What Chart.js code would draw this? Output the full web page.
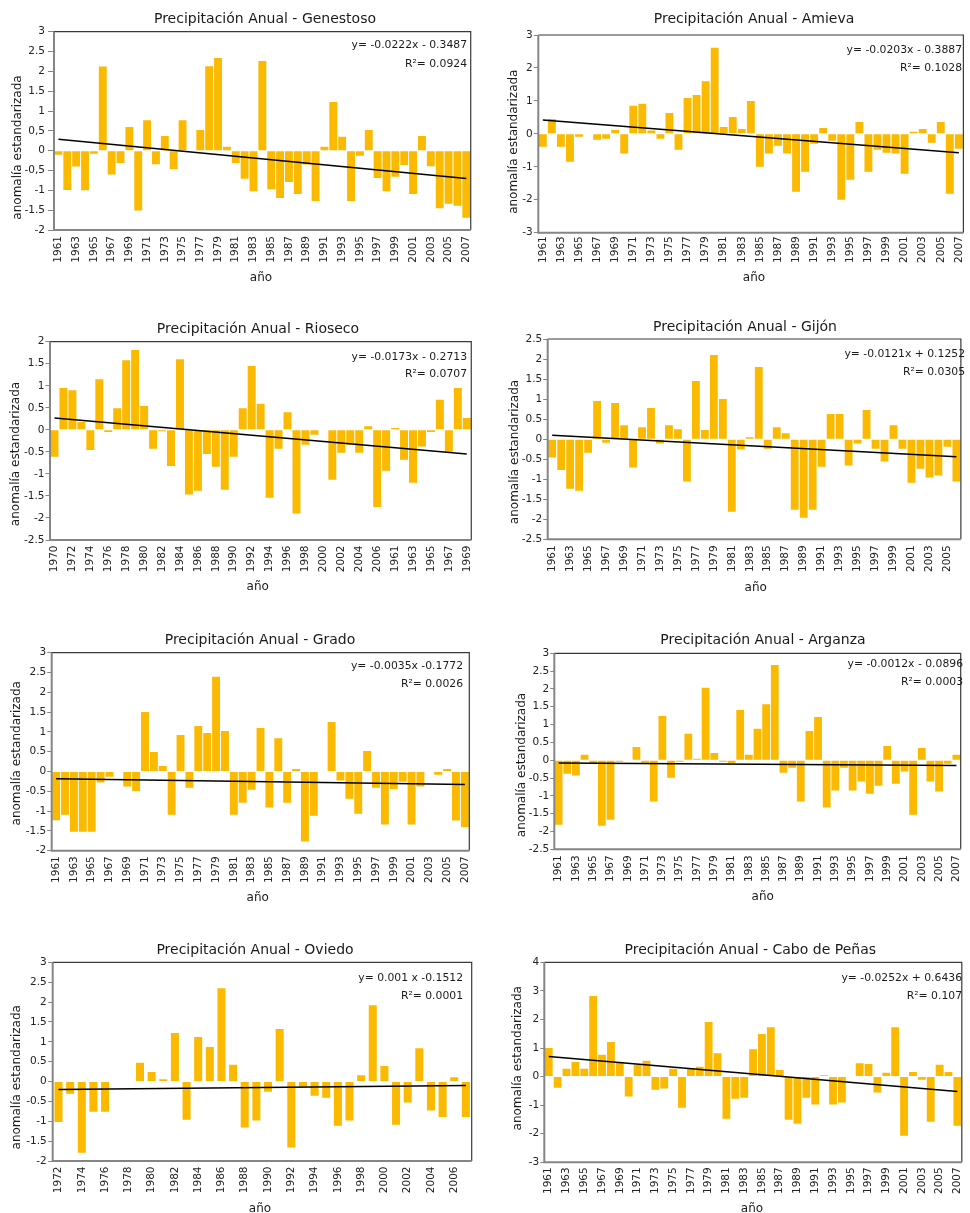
<!DOCTYPE html>
<html><head><meta charset="utf-8">
<script src="https://cdn.jsdelivr.net/npm/chart.js@4/dist/chart.umd.min.js"></script>
<style>
html,body{margin:0;padding:0;width:970px;height:1213px;overflow:hidden;background:#fff;}
canvas{position:absolute;}
</style></head><body>
<script>
// ---------- categories ----------
const years1961to2007 = [1961,1962,1963,1964,1965,1966,1967,1968,1969,1970,1971,1972,1973,1974,1975,1976,1977,1978,1979,1980,1981,1982,1983,1984,1985,1986,1987,1988,1989,1990,1991,1992,1993,1994,1995,1996,1997,1998,1999,2000,2001,2002,2003,2004,2005,2006,2007];
const years1961to2006 = [1961,1962,1963,1964,1965,1966,1967,1968,1969,1970,1971,1972,1973,1974,1975,1976,1977,1978,1979,1980,1981,1982,1983,1984,1985,1986,1987,1988,1989,1990,1991,1992,1993,1994,1995,1996,1997,1998,1999,2000,2001,2002,2003,2004,2005,2006];
const riosecoYears = [1970,1971,1972,1973,1974,1975,1976,1977,1978,1979,1980,1981,1982,1983,1984,1985,1986,1987,1988,1989,1990,1991,1992,1993,1994,1995,1996,1997,1998,1999,2000,2001,2002,2003,2004,2005,2006,2007,1961,1962,1963,1964,1965,1966,1967,1968,1969];
const oviedoYears = [1972,1973,1974,1975,1976,1977,1978,1979,1980,1981,1982,1983,1984,1985,1986,1987,1988,1989,1990,1991,1992,1993,1994,1995,1996,1997,1998,1999,2000,2001,2002,2003,2004,2005,2006,2007];

// ---------- series values ----------
const genestosoValues = [-0.1,-0.99,-0.4,-1.0,-0.08,2.12,-0.6,-0.31,0.6,-1.51,0.77,-0.34,0.37,-0.46,0.77,0,0.52,2.13,2.34,0.1,-0.31,-0.71,-1.02,2.26,-0.97,-1.19,-0.79,-1.09,-0.35,-1.27,0.1,1.23,0.35,-1.27,-0.13,0.52,-0.69,-1.02,-0.66,-0.36,-1.09,0.37,-0.39,-1.45,-1.34,-1.39,-1.69];
const amievaValues = [-0.39,0.45,-0.39,-0.85,-0.09,0,-0.18,-0.15,0.12,-0.6,0.85,0.91,0.1,-0.15,0.63,-0.48,1.09,1.18,1.6,2.61,0.21,0.51,0.15,1.0,-1.0,-0.6,-0.36,-0.6,-1.76,-1.15,-0.3,0.18,-0.21,-2.0,-1.39,0.36,-1.15,-0.48,-0.57,-0.6,-1.21,0.06,0.15,-0.27,0.36,-1.82,-0.45];
const riosecoValues = [-0.61,0.95,0.9,0.18,-0.46,1.15,-0.05,0.49,1.58,1.81,0.54,-0.43,-0.03,-0.82,1.6,-1.47,-1.38,-0.55,-0.84,-1.36,-0.61,0.49,1.45,0.59,-1.54,-0.43,0.4,-1.9,-0.34,-0.11,0,-1.13,-0.52,-0.34,-0.52,0.08,-1.75,-0.93,0.04,-0.68,-1.2,-0.38,-0.05,0.68,-0.5,0.95,0.27];
const gijonValues = [-0.46,-0.77,-1.24,-1.29,-0.34,0.95,-0.09,0.9,0.35,-0.71,0.3,0.78,-0.11,0.35,0.25,-1.06,1.45,0.23,2.1,1.0,-1.81,-0.26,0.05,1.8,-0.24,0.3,0.15,-1.76,-1.96,-1.76,-0.69,0.63,0.63,-0.66,-0.11,0.73,-0.24,-0.56,0.35,-0.24,-1.09,-0.74,-0.96,-0.91,-0.19,-1.06];
const gradoValues = [-1.23,-1.09,-1.52,-1.52,-1.52,-0.28,-0.13,0,-0.38,-0.49,1.5,0.49,0.14,-1.09,0.92,-0.41,1.15,0.97,2.39,1.02,-1.09,-0.79,-0.46,1.1,-0.91,0.84,-0.79,0.06,-1.77,-1.12,0,1.25,-0.23,-0.69,-1.07,0.52,-0.41,-1.34,-0.44,-0.26,-1.34,-0.38,0,-0.08,0.06,-1.24,-1.4];
const arganzaValues = [-1.81,-0.38,-0.43,0.15,-0.07,-1.84,-1.67,-0.04,0,0.37,-0.07,-1.16,1.24,-0.49,-0.04,0.74,0.04,2.03,0.2,-0.04,-0.1,1.41,0.15,0.88,1.57,2.67,-0.35,-0.21,-1.16,0.82,1.21,-1.33,-0.85,-0.21,-0.85,-0.6,-0.94,-0.72,0.4,-0.66,-0.32,-1.53,0.34,-0.6,-0.88,-0.1,0.15];
const oviedoValues = [-1.02,-0.31,-1.79,-0.76,-0.76,0,0,0.47,0.24,0.06,1.22,-0.96,1.12,0.87,2.35,0.42,-1.16,-0.98,-0.26,1.32,-1.66,-0.13,-0.36,-0.41,-1.11,-0.98,0.16,1.92,0.39,-1.09,-0.53,0.84,-0.73,-0.89,0.11,-0.89];
const caboValues = [1.0,-0.39,0.27,0.51,0.27,2.82,0.76,1.21,0.51,-0.7,0.41,0.55,-0.46,-0.42,0.27,-1.09,0.27,0.34,1.91,0.82,-1.48,-0.78,-0.74,0.96,1.49,1.73,0.23,-1.51,-1.65,-0.74,-0.98,0.05,-0.98,-0.91,0,0.47,0.44,-0.56,0.13,1.73,-2.07,0.16,-0.11,-1.58,0.41,0.16,-1.72];

// ---------- trend lines (value at first and last category) ----------
const genestosoTrend = [0.29,-0.70];
const amievaTrend = [0.42,-0.57];
const riosecoTrend = [0.27,-0.55];
const gijonTrend = [0.10,-0.44];
const gradoTrend = [-0.18,-0.33];
const arganzaTrend = [-0.08,-0.15];
const oviedoTrend = [-0.20,-0.10];
const caboTrend = [0.70,-0.52];

// ---------- y tick labels (bottom to top) ----------
const genestosoTicks = ['-2','-1.5','-1','-0,5','0','0,5','1','1.5','2','2.5','3'];
const amievaTicks = ['-3','-2','-1','0','1','2','3'];
const riosecoTicks = ['-2.5','-2','-1.5','-1','-0.5','0','0.5','1','1.5','2'];
const gijonTicks = ['-2.5','-2','-1.5','-1','-0.5','0','0.5','1','1.5','2','2.5'];
const gradoTicks = ['-2','-1.5','-1','-0.5','0','0.5','1','1.5','2','2.5','3'];
const arganzaTicks = ['-2.5','-2','-1.5','-1','-0.5','0','0.5','1','1.5','2','2.5','3'];
const oviedoTicks = ['-2','-1.5','-1','-0.5','0','0.5','1','1.5','2','2.5','3'];
const caboTicks = ['-3','-2','-1','0','1','2','3','4'];

// ---------- texts ----------
const titles = ['Precipitación Anual - Genestoso','Precipitación Anual - Amieva','Precipitación Anual - Rioseco','Precipitación Anual - Gijón','Precipitación Anual - Grado','Precipitación Anual - Arganza','Precipitación Anual - Oviedo','Precipitación Anual - Cabo de Peñas'];
const equations = ['y= -0.0222x - 0.3487','y= -0.0203x - 0.3887','y= -0.0173x - 0.2713','y= -0.0121x + 0.1252','y= -0.0035x -0.1772','y= -0.0012x - 0.0896','y= 0.001 x -0.1512','y= -0.0252x + 0.6436'];
const r2Texts = ['R²= 0.0924','R²= 0.1028','R²= 0.0707','R²= 0.0305','R²= 0.0026','R²= 0.0003','R²= 0.0001','R²= 0.107'];
const yAxisTitle = 'anomalía estandarizada';
const xAxisTitle = 'año';

// ---------- layout (page coordinates) ----------
const panels = [
 {labels:years1961to2007, values:genestosoValues, trend:genestosoTrend, ticks:genestosoTicks, yMin:-2,yMax:3,step:0.5,
  box:[0,0,485,300], plot:[54,31.7,475,230], tickLen:6, yPad:3, xPad:6, barPct:0.89,
  title:[265,22.7], eq:[467,48.3,66.7], ytitle:[21.3,147.5], xtitle:[261,280.7]},
 {labels:years1961to2007, values:amievaValues, trend:amievaTrend, ticks:amievaTicks, yMin:-3,yMax:3,step:1,
  box:[485,0,490,300], plot:[538.3,35,971.6,232.7], tickLen:4.5, yPad:1, xPad:3.5, barPct:0.87,
  title:[754,22.7], eq:[962,52.7,70.7], ytitle:[517,141.7], xtitle:[754,280.7]},
 {labels:riosecoYears, values:riosecoValues, trend:riosecoTrend, ticks:riosecoTicks, yMin:-2.5,yMax:2,step:0.5,
  box:[0,305,485,300], plot:[50,341.7,474,540], tickLen:4.5, yPad:1, xPad:5.5, barPct:0.89,
  title:[258,332.7], eq:[467,359.7,377], ytitle:[19,454], xtitle:[257.7,590]},
 {labels:years1961to2006, values:gijonValues, trend:gijonTrend, ticks:gijonTicks, yMin:-2.5,yMax:2.5,step:0.5,
  box:[485,305,490,300], plot:[547.7,339,973.2,539.3], tickLen:4.5, yPad:1, xPad:6, barPct:0.87,
  title:[745,330.7], eq:[965,357.3,375.3], ytitle:[518.3,452], xtitle:[755.7,590.7]},
 {labels:years1961to2007, values:gradoValues, trend:gradoTrend, ticks:gradoTicks, yMin:-2,yMax:3,step:0.5,
  box:[0,615,485,300], plot:[51.7,652.7,469.3,850.7], tickLen:4.5, yPad:1, xPad:5.5, barPct:0.89,
  title:[260,644.3], eq:[463,669.3,687.3], ytitle:[20,753.3], xtitle:[257.7,900.7]},
 {labels:years1961to2007, values:arganzaValues, trend:arganzaTrend, ticks:arganzaTicks, yMin:-2.5,yMax:3,step:0.5,
  box:[485,615,490,300], plot:[554.3,653.3,972.4,849.3], tickLen:4, yPad:1, xPad:6, barPct:0.9,
  title:[763,644.3], eq:[963,667.3,685], ytitle:[525,765], xtitle:[762.7,900]},
 {labels:oviedoYears, values:oviedoValues, trend:oviedoTrend, ticks:oviedoTicks, yMin:-2,yMax:3,step:0.5,
  box:[0,925,485,288], plot:[52.7,962.3,471.7,1161], tickLen:4.5, yPad:1.5, xPad:5.5, barPct:0.69,
  title:[255,954], eq:[463,980.7,998.7], ytitle:[20,1077.3], xtitle:[260,1211.5]},
 {labels:years1961to2007, values:caboValues, trend:caboTrend, ticks:caboTicks, yMin:-3,yMax:4,step:1,
  box:[485,925,490,288], plot:[544.3,962.3,972.4,1162.3], tickLen:4, yPad:1, xPad:5, barPct:0.88,
  title:[750.3,954], eq:[962,981.3,999], ytitle:[521,1058.3], xtitle:[752,1212]}
];

const FONT = 'DejaVu Sans';

function decor(p, k){
  const [x0,y0] = p.box;
  return {
    id:'decor'+k,
    afterDraw(chart){
      const ctx = chart.ctx, a = chart.chartArea;
      ctx.save();
      ctx.strokeStyle = '#3a3a3a'; ctx.lineWidth = 1.2;
      ctx.beginPath();
      ctx.moveTo(a.left, a.top); ctx.lineTo(a.right, a.top); ctx.lineTo(a.right, a.bottom);
      ctx.stroke();
      ctx.strokeStyle = '#858585'; ctx.lineWidth = 2;
      ctx.beginPath();
      ctx.moveTo(a.left, a.top); ctx.lineTo(a.left, a.bottom); ctx.lineTo(a.right, a.bottom);
      ctx.stroke();
      ctx.fillStyle = '#1a1a1a';
      ctx.textBaseline = 'alphabetic';
      ctx.font = '14px "' + FONT + '"';
      ctx.textAlign = 'center';
      ctx.fillText(titles[k], p.title[0]-x0, p.title[1]-y0);
      ctx.font = '10.8px "' + FONT + '"';
      ctx.textAlign = 'right';
      ctx.fillText(equations[k], p.eq[0]-x0, p.eq[1]-y0);
      ctx.fillText(r2Texts[k], p.eq[0]-x0, p.eq[2]-y0);
      ctx.font = '12px "' + FONT + '"';
      ctx.textAlign = 'center';
      ctx.fillText(xAxisTitle, p.xtitle[0]-x0, p.xtitle[1]-y0);
      ctx.translate(p.ytitle[0]-x0, p.ytitle[1]-y0);
      ctx.rotate(-Math.PI/2);
      ctx.fillText(yAxisTitle, 0, 0);
      ctx.restore();
    }
  };
}

panels.forEach((p, k) => {
  const [x0,y0,w,h] = p.box;
  const [L,T,R,B] = p.plot;
  const cv = document.createElement('canvas');
  cv.width = w; cv.height = h;
  cv.style.left = x0+'px'; cv.style.top = y0+'px';
  cv.style.width = w+'px'; cv.style.height = h+'px';
  document.body.appendChild(cv);
  const n = p.labels.length;
  const trendData = p.labels.map((_, i) => i === 0 ? p.trend[0] : (i === n-1 ? p.trend[1] : null));
  new Chart(cv, {
    type:'bar',
    data:{
      labels:p.labels,
      datasets:[
        {type:'line', data:trendData, borderColor:'#000', borderWidth:1.5, pointRadius:0, spanGaps:true, tension:0, order:0},
        {type:'bar', data:p.values, backgroundColor:'#FBB900', borderWidth:0, barPercentage:p.barPct, categoryPercentage:1, order:1}
      ]
    },
    options:{
      responsive:false, animation:false, devicePixelRatio:1,
      layout:{padding:{left:0, top:T-y0, right:x0+w-R, bottom:0}},
      plugins:{legend:{display:false}, title:{display:false}, tooltip:{enabled:false}},
      scales:{
        x:{
          grid:{display:false, drawTicks:false}, border:{display:false},
          ticks:{autoSkip:false, minRotation:90, maxRotation:90, padding:p.xPad, color:'#222',
                 font:{family:FONT, size:10.5},
                 callback:function(v, i){ return i % 2 === 0 ? String(this.getLabelForValue(v)) : ''; }},
          afterFit:(s) => { s.height = y0 + h - B; }
        },
        y:{
          min:p.yMin, max:p.yMax,
          ticks:{stepSize:p.step, padding:p.yPad, color:'#222', font:{family:FONT, size:10.5},
                 callback:(v) => p.ticks[Math.round((v - p.yMin)/p.step)]},
          grid:{drawOnChartArea:false, drawTicks:true, tickLength:p.tickLen, color:'#858585', lineWidth:1},
          border:{display:false},
          afterFit:(s) => { s.width = L - x0; }
        }
      }
    },
    plugins:[decor(p, k)]
  });
});
</script>
</body></html>
